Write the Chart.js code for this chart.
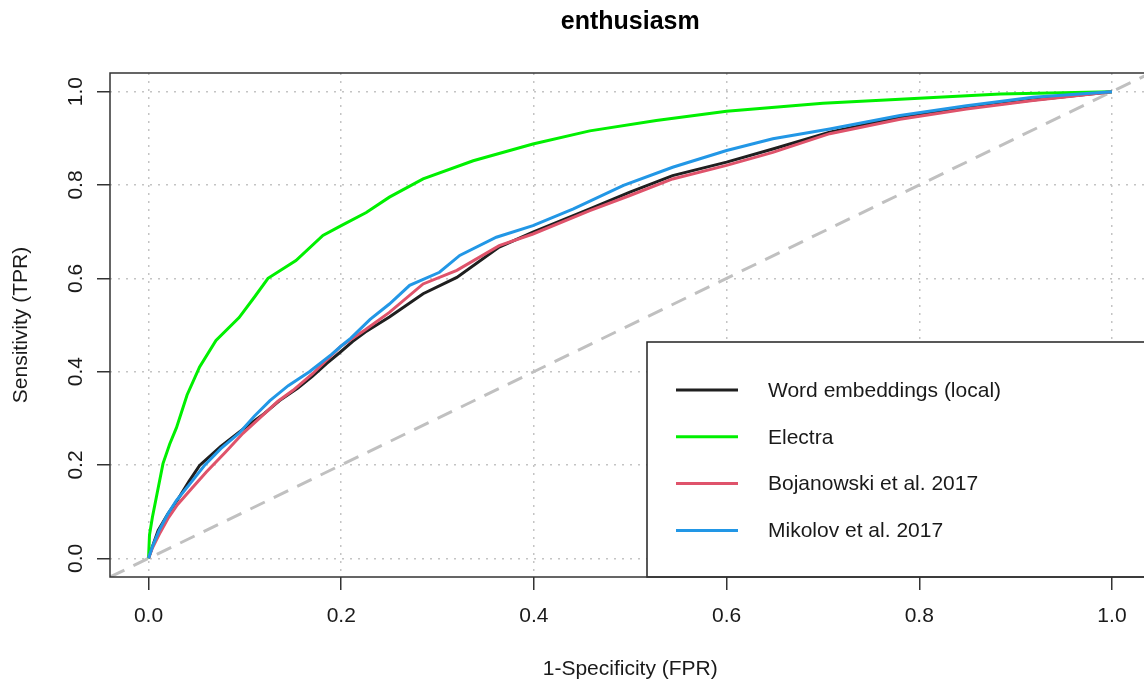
<!DOCTYPE html>
<html>
<head>
<meta charset="utf-8">
<script src="https://cdn.jsdelivr.net/npm/chart.js@4"></script>
<style>
  html, body { margin: 0; padding: 0; background: #fff; overflow: hidden; }
  #wrap { width: 1144px; height: 685px; overflow: hidden; }
</style>
</head>
<body>
<div id="wrap"><canvas id="roc" width="1152" height="685"></canvas></div>
<script>
// ROC curves (x = FPR, y = TPR)
const xTicks = [0, 0.2, 0.4, 0.6, 0.8, 1.0];
const yTicks = [0, 0.2, 0.4, 0.6, 0.8, 1.0];
const labels = ['Word embeddings (local)', 'Electra', 'Bojanowski et al. 2017', 'Mikolov et al. 2017'];
const colors = ['#1f1f1f', '#00f000', '#df536b', '#2297e6'];

const fprLocal = [0, 0.004, 0.01, 0.02, 0.03, 0.042, 0.053, 0.075, 0.1, 0.12, 0.136, 0.155, 0.17, 0.185, 0.198, 0.212, 0.225, 0.25, 0.285, 0.32, 0.364, 0.399, 0.458, 0.499, 0.544, 0.6, 0.648, 0.707, 0.78, 0.849, 0.918, 1.0];
const tprLocal = [0, 0.025, 0.06, 0.095, 0.125, 0.165, 0.199, 0.24, 0.28, 0.31, 0.338, 0.365, 0.39, 0.418, 0.44, 0.465, 0.485, 0.517, 0.567, 0.602, 0.667, 0.699, 0.749, 0.784, 0.82, 0.849, 0.877, 0.913, 0.945, 0.965, 0.982, 1.0];

const fprElectra = [0, 0.001, 0.004, 0.008, 0.015, 0.022, 0.029, 0.04, 0.053, 0.07, 0.094, 0.11, 0.124, 0.153, 0.181, 0.2, 0.226, 0.25, 0.285, 0.337, 0.399, 0.458, 0.527, 0.6, 0.7, 0.78, 0.884, 1.0];
const tprElectra = [0, 0.05, 0.088, 0.13, 0.203, 0.245, 0.28, 0.35, 0.41, 0.467, 0.516, 0.56, 0.6, 0.638, 0.692, 0.713, 0.741, 0.774, 0.813, 0.852, 0.888, 0.916, 0.938, 0.958, 0.975, 0.984, 0.995, 1.0];

const fprBojan = [0, 0.004, 0.012, 0.02, 0.03, 0.045, 0.06, 0.08, 0.098, 0.115, 0.134, 0.15, 0.17, 0.185, 0.2, 0.225, 0.25, 0.285, 0.32, 0.364, 0.399, 0.458, 0.499, 0.544, 0.6, 0.648, 0.707, 0.78, 0.849, 0.918, 1.0];
const tprBojan = [0, 0.022, 0.055, 0.085, 0.115, 0.15, 0.185, 0.228, 0.268, 0.3, 0.336, 0.36, 0.395, 0.425, 0.455, 0.49, 0.527, 0.588, 0.617, 0.67, 0.695, 0.745, 0.777, 0.813, 0.842, 0.87, 0.91, 0.941, 0.963, 0.981, 1.0];

const fprMikolov = [0, 0.004, 0.011, 0.02, 0.029, 0.045, 0.058, 0.075, 0.094, 0.11, 0.126, 0.145, 0.167, 0.19, 0.2, 0.21, 0.23, 0.25, 0.271, 0.302, 0.323, 0.361, 0.399, 0.441, 0.493, 0.544, 0.6, 0.648, 0.707, 0.78, 0.849, 0.918, 1.0];
const tprMikolov = [0, 0.025, 0.06, 0.095, 0.124, 0.165, 0.199, 0.235, 0.268, 0.305, 0.338, 0.37, 0.4, 0.437, 0.455, 0.472, 0.512, 0.545, 0.585, 0.613, 0.649, 0.688, 0.713, 0.749, 0.799, 0.838, 0.874, 0.899, 0.92, 0.949, 0.97, 0.988, 1.0];

const diagX = [-0.04, 1.04];
const diagY = [-0.04, 1.04];

function pts(xs, ys) {
    return xs.map((x, i) => ({ x: x, y: ys[i] }));
}

Chart.defaults.font.family = "'Liberation Sans', Arial, sans-serif";
Chart.defaults.color = '#1a1a1a';

// draws the box, rotated y labels and the legend like R does
const rStyle = {
    id: 'rStyle',
    afterDatasetsDraw(chart) {
        const ctx = chart.ctx;
        const a = chart.chartArea;
        const lx = 647, ly = 342;
        ctx.save();
        ctx.fillStyle = '#fff';
        ctx.fillRect(lx, ly, a.right - lx, a.bottom - ly);
        ctx.strokeStyle = '#222';
        ctx.lineWidth = 1.5;
        ctx.strokeRect(lx, ly, a.right - lx, a.bottom - ly);
        ctx.font = "21px 'Liberation Sans', Arial, sans-serif";
        ctx.textBaseline = 'middle';
        labels.forEach((txt, i) => {
            const y = 390 + i * 46.8;
            ctx.strokeStyle = colors[i];
            ctx.lineWidth = 3;
            ctx.beginPath();
            ctx.moveTo(676, y);
            ctx.lineTo(738, y);
            ctx.stroke();
            ctx.fillStyle = '#1a1a1a';
            ctx.fillText(txt, 768, y + 1);
        });
        ctx.restore();
    },
    afterDraw(chart) {
        const ctx = chart.ctx;
        const a = chart.chartArea;
        ctx.save();
        ctx.strokeStyle = '#333';
        ctx.lineWidth = 1.5;
        ctx.strokeRect(a.left, a.top, a.right - a.left, a.bottom - a.top);
        const ys = chart.scales.y;
        ctx.fillStyle = '#1a1a1a';
        ctx.font = "21px 'Liberation Sans', Arial, sans-serif";
        ctx.textAlign = 'center';
        ctx.textBaseline = 'alphabetic';
        yTicks.forEach(v => {
            ctx.save();
            ctx.translate(81.5, ys.getPixelForValue(v));
            ctx.rotate(-Math.PI / 2);
            ctx.fillText(v.toFixed(1), 0, 0);
            ctx.restore();
        });
        ctx.restore();
    }
};

new Chart(document.getElementById('roc'), {
    type: 'line',
    data: {
        datasets: [
            { label: labels[0], data: pts(fprLocal, tprLocal), borderColor: colors[0], order: 4 },
            { label: labels[1], data: pts(fprElectra, tprElectra), borderColor: colors[1], order: 3 },
            { label: labels[2], data: pts(fprBojan, tprBojan), borderColor: colors[2], order: 2 },
            { label: labels[3], data: pts(fprMikolov, tprMikolov), borderColor: colors[3], order: 1 },
            { label: 'chance', data: pts(diagX, diagY), borderColor: '#c0c0c0', borderDash: [16, 10], order: 5 }
        ]
    },
    options: {
        responsive: false,
        animation: false,
        devicePixelRatio: 1,
        layout: { padding: { top: 0, right: 1.5, bottom: 0, left: 0 } },
        elements: {
            line: { borderWidth: 3, tension: 0, fill: false },
            point: { radius: 0 }
        },
        plugins: {
            legend: { display: false },
            tooltip: { enabled: false },
            title: {
                display: true,
                text: 'enthusiasm',
                fullSize: false,
                color: '#000',
                font: { size: 25, weight: 'bold' },
                padding: { top: 7, bottom: 36 }
            }
        },
        scales: {
            x: {
                type: 'linear',
                min: -0.04,
                max: 1.04,
                afterBuildTicks: s => { s.ticks = xTicks.map(v => ({ value: v })); },
                afterFit: s => { s.height = 108; },
                ticks: { font: { size: 21 }, padding: 14, maxRotation: 0, callback: v => v.toFixed(1) },
                grid: { color: '#c4c4c4', lineWidth: 1.5, tickLength: 13, tickColor: '#333', tickWidth: 1.5, tickBorderDash: [] },
                border: { display: false, dash: [2, 6] },
                title: { display: true, text: '1-Specificity (FPR)', font: { size: 21 }, padding: { top: 0, bottom: 3.4 } }
            },
            y: {
                type: 'linear',
                min: -0.04,
                max: 1.04,
                afterBuildTicks: s => { s.ticks = yTicks.map(v => ({ value: v })); },
                afterFit: s => { s.width = 110; },
                ticks: { color: 'rgba(0,0,0,0)', font: { size: 21 }, callback: v => v.toFixed(1) },
                grid: { color: '#c4c4c4', lineWidth: 1.5, tickLength: 13, tickColor: '#333', tickWidth: 1.5, tickBorderDash: [] },
                border: { display: false, dash: [2, 6] },
                title: { display: true, text: 'Sensitivity (TPR)', font: { size: 21 }, padding: { top: 8.4, bottom: 0 } }
            }
        }
    },
    plugins: [rStyle]
});
</script>
</body>
</html>
